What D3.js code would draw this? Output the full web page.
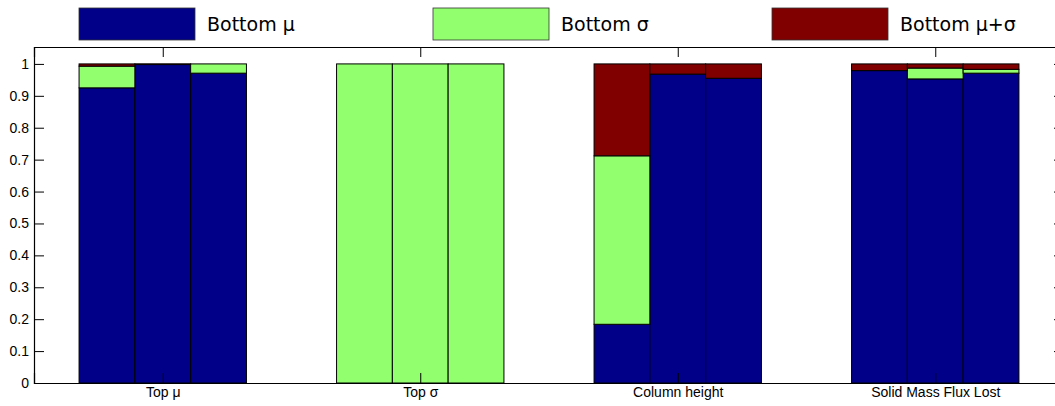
<!DOCTYPE html>
<html>
<head>
<meta charset="utf-8">
<script src="https://cdn.jsdelivr.net/npm/d3@7"></script>
<style>
  body { margin: 0; background: #fff; }
  svg { display: block; font-family: "DejaVu Sans", sans-serif; }
  .tick text { fill: #000; }
</style>
</head>
<body>
<div id="chart"></div>
<script>
// categories and stacked fractions (3 bars per category)
var categories = ["Top μ", "Top σ", "Column height", "Solid Mass Flux Lost"];
var seriesNames = ["Bottom μ", "Bottom σ", "Bottom μ+σ"];
var bottomMu = [[0.925, 0.998, 0.971], [0, 0, 0], [0.184, 0.968, 0.955], [0.979, 0.953, 0.971]];
var bottomSigma = [[0.068, 0.001, 0.029], [1, 1, 1], [0.528, 0, 0], [0, 0.034, 0.012]];
var bottomMuSigma = [[0.007, 0.001, 0], [0, 0, 0], [0.288, 0.032, 0.045], [0.021, 0.013, 0.017]];
var yTicks = [0, 0.1, 0.2, 0.3, 0.4, 0.5, 0.6, 0.7, 0.8, 0.9, 1];

var colors = ["#000088", "#91ff6e", "#800000"];

var W = 1055, H = 406;
var margin = {left: 34, right: -9, top: 47, bottom: 23};

var svg = d3.select("#chart").append("svg")
    .attr("width", W)
    .attr("height", H);

var x = d3.scaleLinear()
    .domain([-0.5, categories.length - 0.5])
    .range([margin.left, W - margin.right]);
var y = d3.scaleLinear()
    .domain([0, 1.053])
    .range([H - margin.bottom, margin.top]);

var barW = 0.65 / 3;

// flatten into rows, one per bar
var rows = [];
categories.forEach(function (c, i) {
    for (var j = 0; j < 3; j++) {
        rows.push({cat: i, pos: j, mu: bottomMu[i][j], sigma: bottomSigma[i][j], musigma: bottomMuSigma[i][j]});
    }
});

var stack = d3.stack().keys(["mu", "sigma", "musigma"]);
var layers = stack(rows);

var g = svg.append("g");
layers.forEach(function (layer, k) {
    g.selectAll(".bar" + k)
        .data(layer)
        .enter().append("rect")
        .attr("x", function (d) { return x(d.data.cat + (d.data.pos - 1.5) * barW); })
        .attr("width", function () { return x(barW) - x(0); })
        .attr("y", function (d) { return y(d[1]); })
        .attr("height", function (d) { return Math.max(0, y(d[0]) - y(d[1])); })
        .attr("fill", colors[k])
        .attr("stroke", "#000")
        .attr("stroke-width", 1);
});

// axes
var x0 = x.range()[0], x1 = x.range()[1], y0 = y(0), yTop = margin.top;
var tickLen = 10;

var leftAxis = svg.append("g")
    .attr("transform", "translate(" + x0 + ",0)")
    .call(d3.axisLeft(y).tickValues(yTicks).tickSize(-tickLen).tickPadding(5)
        .tickFormat(function (d) { return d3.format("~g")(d); }));
leftAxis.selectAll("text").style("font-size", "14px");

var rightAxis = svg.append("g")
    .attr("transform", "translate(" + x1 + ",0)")
    .call(d3.axisRight(y).tickValues(yTicks).tickSize(-tickLen).tickFormat(""));

var bottomAxis = svg.append("g")
    .attr("transform", "translate(0," + y0 + ")")
    .call(d3.axisBottom(x).tickValues(d3.range(categories.length)).tickSize(-tickLen).tickPadding(4)
        .tickFormat(function (d) { return categories[d]; }));
bottomAxis.selectAll("text").style("font-size", "14px");

var topAxis = svg.append("g")
    .attr("transform", "translate(0," + yTop + ")")
    .call(d3.axisTop(x).tickValues(d3.range(categories.length)).tickSize(-tickLen).tickFormat(""));

[leftAxis, rightAxis, bottomAxis, topAxis].forEach(function (a) {
    a.select(".domain").attr("stroke", "#000").attr("stroke-width", 1.2);
    a.selectAll(".tick line").attr("stroke", "#000").attr("stroke-width", 1);
});

// legend
var legendX = [79, 433, 772];
var leg = svg.append("g");
seriesNames.forEach(function (name, k) {
    leg.append("rect")
        .attr("x", legendX[k]).attr("y", 8)
        .attr("width", 116).attr("height", 32)
        .attr("fill", colors[k])
        .attr("stroke", "#333").attr("stroke-width", 0.8);
    leg.append("text")
        .attr("x", legendX[k] + 128).attr("y", 31)
        .style("font-size", "19px")
        .text(name);
});
</script>
</body>
</html>
